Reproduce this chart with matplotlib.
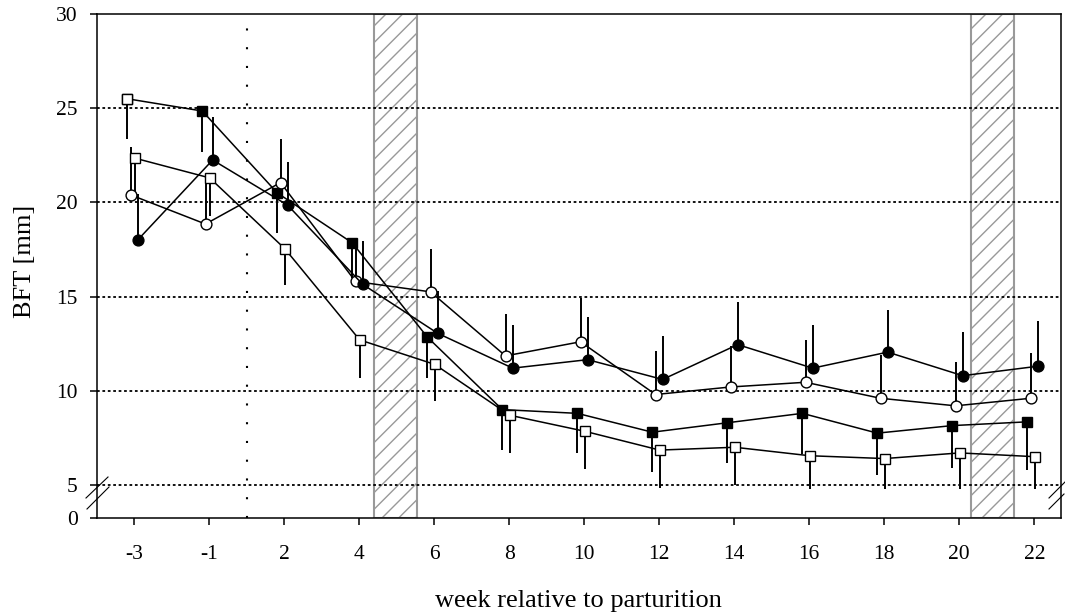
import numpy as np
import matplotlib
matplotlib.use("Agg")
import matplotlib.pyplot as plt
from matplotlib.lines import Line2D

plt.rcParams['font.family'] = ['Liberation Serif', 'DejaVu Serif']
plt.rcParams['hatch.linewidth'] = 1.0

# week relative to parturition (categorical positions)
weeks = ['-3', '-1', '2', '4', '6', '8', '10', '12', '14', '16', '18', '20', '22']

# group means and SD of backfat thickness [mm]
sq_fill_mean = [25.5, 24.85, 20.5, 17.85, 12.85, 9.0, 8.8, 7.8, 8.3, 8.8, 7.75, 8.15, 8.35]
sq_fill_sd = [2.15, 2.15, 2.1, 1.85, 2.15, 2.15, 2.1, 2.1, 2.15, 2.15, 2.2, 2.25, 2.55]

sq_open_mean = [22.35, 21.3, 17.55, 12.7, 11.4, 8.7, 7.85, 6.85, 7.0, 6.55, 6.4, 6.7, 6.5]
sq_open_sd = [1.85, 2.0, 1.95, 2.0, 1.95, 2.0, 2.0, 2.0, 2.0, 1.75, 1.6, 1.9, 1.7]

ci_open_mean = [20.4, 18.85, 21.05, 15.8, 15.25, 11.85, 12.6, 9.8, 10.2, 10.45, 9.6, 9.2, 9.6]
ci_open_sd = [2.55, 2.25, 2.3, 2.05, 2.3, 2.25, 2.35, 2.3, 2.2, 2.25, 2.3, 2.3, 2.4]

ci_fill_mean = [18.0, 22.25, 19.85, 15.65, 13.05, 11.2, 11.65, 10.6, 12.45, 11.2, 12.05, 10.8, 11.3]
ci_fill_sd = [2.45, 2.3, 2.3, 2.3, 2.25, 2.3, 2.25, 2.3, 2.25, 2.3, 2.25, 2.3, 2.4]

# shaded periods (in category units)
periods = [(3.2, 3.77), (11.15, 11.73)]
parturition_pos = 1.5

W, H = 1065, 613
fig = plt.figure(figsize=(W / 100, H / 100), dpi=100)
ax = fig.add_axes([97 / W, (H - 518) / H, (1061 - 97) / W, (518 - 14) / H])

x = np.arange(len(weeks))
y_break = 5 - 33 / 18.8  # compressed segment between 0 and 5

# background: shaded periods, grid and parturition line
for a, b in periods:
    ax.axvspan(a, b, facecolor='none', edgecolor='#999999', hatch='//',
               lw=1.5, zorder=0.8)
for yv in [5, 10, 15, 20, 25]:
    ax.axhline(yv, color='black', lw=1.3, dashes=(1.5, 1.5), zorder=1)
ax.axvline(parturition_pos, color='black', lw=1.5, dashes=(1, 8), zorder=1)

series = [
    (sq_fill_mean, sq_fill_sd, -0.093, 's', 'black', -1),
    (ci_open_mean, ci_open_sd, -0.05, 'o', 'white', 1),
    (sq_open_mean, sq_open_sd, 0.005, 's', 'white', -1),
    (ci_fill_mean, ci_fill_sd, 0.045, 'o', 'black', 1),
]

for mean, sd, off, mk, face, direction in series:
    xs = x + off
    mean = np.asarray(mean)
    ends = mean + direction * np.asarray(sd)
    ax.vlines(xs, mean, ends, color='black', lw=1.4, zorder=3)
    ax.plot(xs, mean, color='black', lw=1.1, marker=mk, ms=7.8,
            mfc=face, mec='black', mew=1.0, zorder=4)

# first measurement of the filled-square group is drawn hollow
ax.plot(x[0] - 0.093, sq_fill_mean[0], marker='s', ms=7.8, mfc='white',
        mec='black', mew=1.0, ls='none', zorder=5)

ax.set_xlim(-0.497, 12.356)
ax.set_ylim(y_break, 30)
ax.set_xticks(x)
ax.set_xticklabels(weeks)
ax.set_yticks([y_break, 5, 10, 15, 20, 25, 30])
ax.set_yticklabels(['0', '5', '10', '15', '20', '25', '30'])

for s in ax.spines.values():
    s.set_linewidth(1.1)
    s.set_color('black')
ax.tick_params(axis='both', direction='out', length=5, width=1.1,
               labelsize=15.5, color='black')
ax.tick_params(axis='x', pad=14.5)
ax.tick_params(axis='y', pad=9)

fig.text(25 / W, 1 - 261 / H, 'BFT [mm]', rotation=90, ha='center',
         va='center', fontsize=19)
fig.text(578 / W, 1 - 601 / H, 'week relative to parturition', ha='center',
         va='center', fontsize=19)

# axis break marks
def brk(x1, y1, x2, y2):
    fig.add_artist(Line2D([x1 / W, x2 / W], [1 - y1 / H, 1 - y2 / H],
                          transform=fig.transFigure, color='black', lw=0.8))

brk(86, 498, 108, 477)
brk(87, 509, 109, 487)
brk(1049, 498, 1066, 481)
brk(1049, 509, 1064, 494)

fig.savefig('out.png', dpi=100)
